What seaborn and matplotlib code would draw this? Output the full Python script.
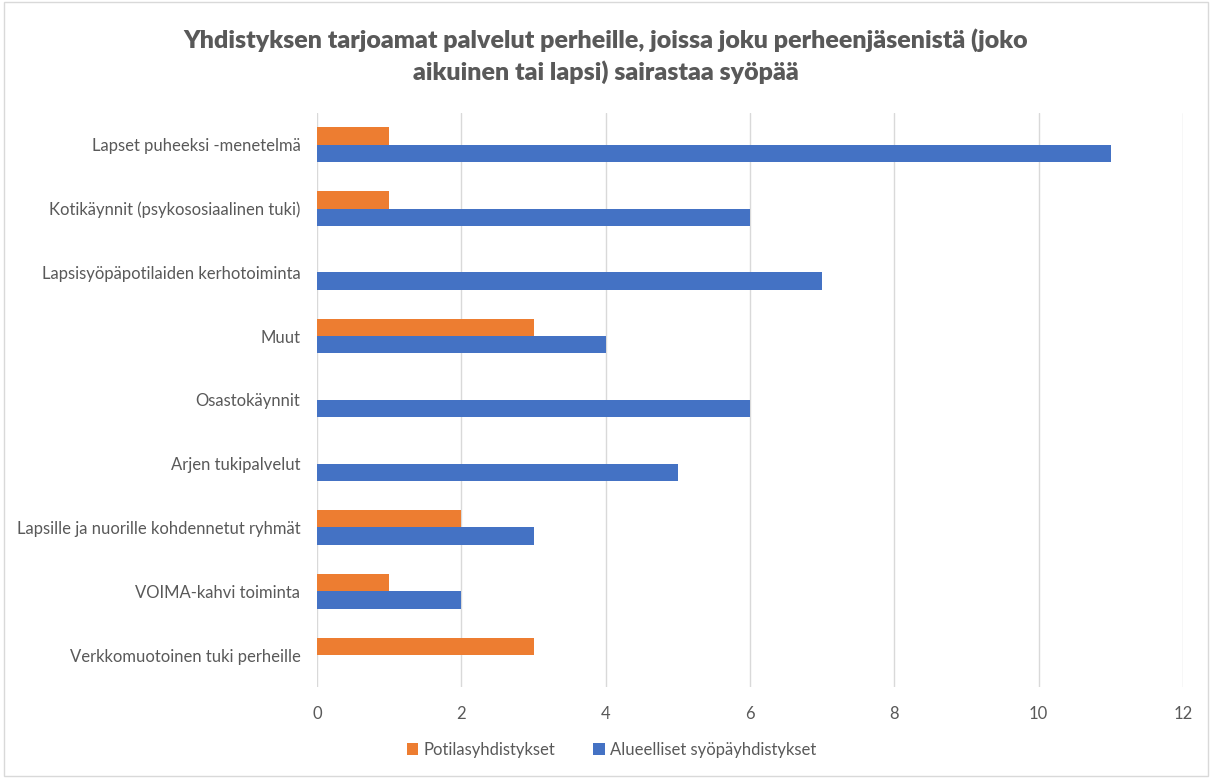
import pandas as pd
import seaborn as sns
import matplotlib.pyplot as plt
from matplotlib.patches import Rectangle

# Data
categories = [
    'Lapset puheeksi -menetelmä',
    'Kotikäynnit (psykososiaalinen tuki)',
    'Lapsisyöpäpotilaiden kerhotoiminta',
    'Muut',
    'Osastokäynnit',
    'Arjen tukipalvelut',
    'Lapsille ja nuorille kohdennetut ryhmät',
    'VOIMA-kahvi toiminta',
    'Verkkomuotoinen tuki perheille',
]
potilas = [1, 1, 0, 3, 0, 0, 2, 1, 3]
alueelliset = [11, 6, 7, 4, 6, 5, 3, 2, 0]
series = ['Potilasyhdistykset', 'Alueelliset syöpäyhdistykset']
colors = ['#ED7D31', '#4472C4']

df = pd.DataFrame({'kategoria': categories, series[0]: potilas, series[1]: alueelliset})
df_long = pd.melt(df, id_vars='kategoria', value_vars=series, var_name='sarja', value_name='arvo')

sns.set_style('white')
plt.rcParams['font.family'] = ['Lato', 'DejaVu Sans']

fig = plt.figure(figsize=(12.12, 7.78), dpi=100)
ax = fig.add_axes([0.2616, 0.117, 0.7144, 0.738])

sns.barplot(data=df_long, y='kategoria', x='arvo', hue='sarja', order=categories,
            hue_order=series, palette=colors, orient='h', width=0.54,
            saturation=1, linewidth=0, ax=ax, zorder=3)

ax.set_xlim(0, 12)
ax.set_xticks(range(0, 13, 2))
ax.grid(axis='x', color='#D9D9D9', linewidth=1, zorder=0)
ax.set_axisbelow(True)
for s in ax.spines.values():
    s.set_visible(False)
ax.set_xlabel('')
ax.set_ylabel('')
ax.tick_params(axis='both', length=0, labelsize=12, labelcolor='#595959')
ax.tick_params(axis='x', pad=14)
ax.tick_params(axis='y', pad=12)

# legend under the plot, centred like the original
ax.legend(loc='upper center', bbox_to_anchor=(0.34, -0.07), ncol=2, frameon=False,
          fontsize=12, labelcolor='#595959', handlelength=0.7, handleheight=0.7,
          columnspacing=2.3, handletextpad=0.3)

fig.suptitle('Yhdistyksen tarjoamat palvelut perheille, joissa joku perheenjäsenistä (joko\n'
             'aikuinen tai lapsi) sairastaa syöpää',
             x=0.5, y=0.963, fontsize=18, fontweight='heavy', color='#595959', linespacing=1.4)

fig.patches.append(Rectangle((0.003, 0.003), 0.994, 0.994, transform=fig.transFigure,
                             fill=False, edgecolor='#D9D9D9', linewidth=1))

fig.savefig('out.png', dpi=100)
